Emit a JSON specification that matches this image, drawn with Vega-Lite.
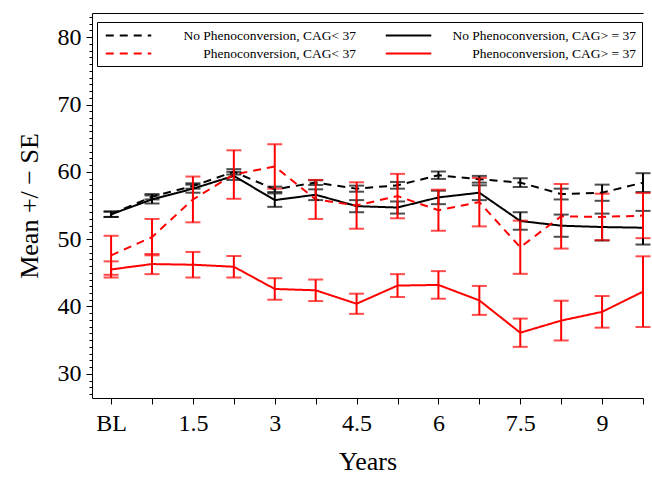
{
  "$schema": "https://vega.github.io/schema/vega-lite/v6.json",
  "width": 551,
  "height": 385,
  "autosize": "none",
  "padding": {"left": 92, "top": 13, "right": 9, "bottom": 79},
  "background": "white",
  "config": {
    "view": {"stroke": null},
    "font": "Liberation Serif",
    "axis": {"labelFont": "Liberation Serif", "titleFont": "Liberation Serif", "labelColor": "black", "titleColor": "black", "domainColor": "black", "tickColor": "black", "grid": false, "titleFontWeight": "normal"}
  },
  "data": {
    "values": [
      {"years": 0, "group": "No Phenoconversion, CAG< 37", "mean": 53.7, "se": 0.4},
      {"years": 0.75, "group": "No Phenoconversion, CAG< 37", "mean": 56.3, "se": 0.4},
      {"years": 1.5, "group": "No Phenoconversion, CAG< 37", "mean": 57.9, "se": 0.4},
      {"years": 2.25, "group": "No Phenoconversion, CAG< 37", "mean": 60.0, "se": 0.4},
      {"years": 3, "group": "No Phenoconversion, CAG< 37", "mean": 57.4, "se": 0.4},
      {"years": 3.75, "group": "No Phenoconversion, CAG< 37", "mean": 58.4, "se": 0.35},
      {"years": 4.5, "group": "No Phenoconversion, CAG< 37", "mean": 57.5, "se": 0.45},
      {"years": 5.25, "group": "No Phenoconversion, CAG< 37", "mean": 58.0, "se": 0.5},
      {"years": 6, "group": "No Phenoconversion, CAG< 37", "mean": 59.5, "se": 0.55},
      {"years": 6.75, "group": "No Phenoconversion, CAG< 37", "mean": 58.9, "se": 0.5},
      {"years": 7.5, "group": "No Phenoconversion, CAG< 37", "mean": 58.4, "se": 0.65},
      {"years": 8.25, "group": "No Phenoconversion, CAG< 37", "mean": 56.7, "se": 0.8},
      {"years": 9, "group": "No Phenoconversion, CAG< 37", "mean": 56.9, "se": 1.2},
      {"years": 9.75, "group": "No Phenoconversion, CAG< 37", "mean": 58.4, "se": 1.4},
      {"years": 0, "group": "No Phenoconversion, CAG> = 37", "mean": 53.7, "se": 0.4},
      {"years": 0.75, "group": "No Phenoconversion, CAG> = 37", "mean": 55.9, "se": 0.6},
      {"years": 1.5, "group": "No Phenoconversion, CAG> = 37", "mean": 57.5, "se": 0.6},
      {"years": 2.25, "group": "No Phenoconversion, CAG> = 37", "mean": 59.4, "se": 0.6},
      {"years": 3, "group": "No Phenoconversion, CAG> = 37", "mean": 55.8, "se": 1.0},
      {"years": 3.75, "group": "No Phenoconversion, CAG> = 37", "mean": 56.6, "se": 0.8},
      {"years": 4.5, "group": "No Phenoconversion, CAG> = 37", "mean": 54.9, "se": 0.9},
      {"years": 5.25, "group": "No Phenoconversion, CAG> = 37", "mean": 54.7, "se": 0.9},
      {"years": 6, "group": "No Phenoconversion, CAG> = 37", "mean": 56.2, "se": 1.0},
      {"years": 6.75, "group": "No Phenoconversion, CAG> = 37", "mean": 56.9, "se": 1.1},
      {"years": 7.5, "group": "No Phenoconversion, CAG> = 37", "mean": 52.7, "se": 1.3},
      {"years": 8.25, "group": "No Phenoconversion, CAG> = 37", "mean": 52.0, "se": 1.65},
      {"years": 9, "group": "No Phenoconversion, CAG> = 37", "mean": 51.8, "se": 2.0},
      {"years": 9.75, "group": "No Phenoconversion, CAG> = 37", "mean": 51.7, "se": 2.5},
      {"years": 0, "group": "Phenoconversion, CAG< 37", "mean": 47.6, "se": 2.9},
      {"years": 0.75, "group": "Phenoconversion, CAG< 37", "mean": 50.3, "se": 2.7},
      {"years": 1.5, "group": "Phenoconversion, CAG< 37", "mean": 55.9, "se": 3.4},
      {"years": 2.25, "group": "Phenoconversion, CAG< 37", "mean": 59.6, "se": 3.6},
      {"years": 3, "group": "Phenoconversion, CAG< 37", "mean": 60.8, "se": 3.3},
      {"years": 3.75, "group": "Phenoconversion, CAG< 37", "mean": 55.9, "se": 2.9},
      {"years": 4.5, "group": "Phenoconversion, CAG< 37", "mean": 55.0, "se": 3.45},
      {"years": 5.25, "group": "Phenoconversion, CAG< 37", "mean": 56.4, "se": 3.3},
      {"years": 6, "group": "Phenoconversion, CAG< 37", "mean": 54.3, "se": 3.05},
      {"years": 6.75, "group": "Phenoconversion, CAG< 37", "mean": 55.5, "se": 3.6},
      {"years": 7.5, "group": "Phenoconversion, CAG< 37", "mean": 48.8, "se": 3.95},
      {"years": 8.25, "group": "Phenoconversion, CAG< 37", "mean": 53.4, "se": 4.8},
      {"years": 9, "group": "Phenoconversion, CAG< 37", "mean": 53.3, "se": 3.45},
      {"years": 9.75, "group": "Phenoconversion, CAG< 37", "mean": 53.5, "se": 3.35},
      {"years": 0, "group": "Phenoconversion, CAG> = 37", "mean": 45.5, "se": 1.2},
      {"years": 0.75, "group": "Phenoconversion, CAG> = 37", "mean": 46.3, "se": 1.5},
      {"years": 1.5, "group": "Phenoconversion, CAG> = 37", "mean": 46.2, "se": 1.9},
      {"years": 2.25, "group": "Phenoconversion, CAG> = 37", "mean": 45.9, "se": 1.6},
      {"years": 3, "group": "Phenoconversion, CAG> = 37", "mean": 42.6, "se": 1.6},
      {"years": 3.75, "group": "Phenoconversion, CAG> = 37", "mean": 42.4, "se": 1.6},
      {"years": 4.5, "group": "Phenoconversion, CAG> = 37", "mean": 40.4, "se": 1.5},
      {"years": 5.25, "group": "Phenoconversion, CAG> = 37", "mean": 43.1, "se": 1.7},
      {"years": 6, "group": "Phenoconversion, CAG> = 37", "mean": 43.2, "se": 2.05},
      {"years": 6.75, "group": "Phenoconversion, CAG> = 37", "mean": 40.9, "se": 2.15},
      {"years": 7.5, "group": "Phenoconversion, CAG> = 37", "mean": 36.1, "se": 2.1},
      {"years": 8.25, "group": "Phenoconversion, CAG> = 37", "mean": 37.9, "se": 2.95},
      {"years": 9, "group": "Phenoconversion, CAG> = 37", "mean": 39.2, "se": 2.35},
      {"years": 9.75, "group": "Phenoconversion, CAG> = 37", "mean": 42.2, "se": 5.25}
    ]
  },
  "layer": [
    {
      "mark": {"type": "line", "strokeWidth": 2},
      "encoding": {
        "x": {
          "field": "years", "type": "quantitative",
          "scale": {"domain": [-0.35, 9.75], "nice": false, "zero": false},
          "axis": {
            "orient": "bottom",
            "values": [0, 0.75, 1.5, 2.25, 3, 3.75, 4.5, 5.25, 6, 6.75, 7.5, 8.25, 9, 9.75],
            "labelExpr": "datum.value == 0 ? 'BL' : (datum.value % 1.5 == 0 ? '' + datum.value : '')",
            "title": "Years",
            "tickSize": 6,
            "labelFontSize": 24,
            "titleFontSize": 26,
            "labelPadding": 7,
            "titlePadding": 13,
            "labelFlush": false,
            "labelOverlap": false
          }
        },
        "y": {
          "field": "mean", "type": "quantitative",
          "scale": {"domain": [26.4, 83.6], "nice": false, "zero": false},
          "axis": {
            "values": [27, 28, 29, 30, 31, 32, 33, 34, 35, 36, 37, 38, 39, 40, 41, 42, 43, 44, 45, 46, 47, 48, 49, 50, 51, 52, 53, 54, 55, 56, 57, 58, 59, 60, 61, 62, 63, 64, 65, 66, 67, 68, 69, 70, 71, 72, 73, 74, 75, 76, 77, 78, 79, 80, 81, 82, 83],
            "labelExpr": "datum.value % 10 == 0 ? '' + datum.value : ''",
            "tickSize": {"condition": {"test": "datum.value % 10 == 0", "value": 6}, "value": 3},
            "title": "Mean +/ \u2212 SE",
            "labelFontSize": 24,
            "titleFontSize": 26,
            "labelPadding": 5,
            "titlePadding": 15,
            "labelOverlap": false
          }
        },
        "color": {
          "field": "group", "type": "nominal",
          "scale": {"domain": ["No Phenoconversion, CAG< 37", "No Phenoconversion, CAG> = 37", "Phenoconversion, CAG< 37", "Phenoconversion, CAG> = 37"], "range": ["#000000", "#000000", "#ff0000", "#ff0000"]},
          "legend": {
            "title": null, "orient": "none", "legendX": 5, "legendY": 9, "direction": "horizontal", "columns": 2,
            "symbolType": "M-0.73,0H6.27", "symbolSize": 169, "symbolStrokeWidth": 2,
            "labelFont": "Liberation Serif", "labelFontSize": 13.5, "labelColor": "black", "labelAlign": "right", "labelOffset": 238, "labelLimit": 400,
            "columnPadding": 25, "rowPadding": 4, "padding": 6, "strokeColor": "black", "fillColor": "white"
          }
        },
        "strokeDash": {
          "field": "group", "type": "nominal",
          "scale": {"domain": ["No Phenoconversion, CAG< 37", "No Phenoconversion, CAG> = 37", "Phenoconversion, CAG< 37", "Phenoconversion, CAG> = 37"], "range": [[8, 6], [1, 0], [8, 6], [1, 0]]},
          "legend": {
            "title": null, "orient": "none", "legendX": 5, "legendY": 9, "direction": "horizontal", "columns": 2,
            "symbolType": "M-0.73,0H6.27", "symbolSize": 169, "symbolStrokeWidth": 2,
            "labelFont": "Liberation Serif", "labelFontSize": 13.5, "labelColor": "black", "labelAlign": "right", "labelOffset": 238, "labelLimit": 400,
            "columnPadding": 25, "rowPadding": 4, "padding": 6, "strokeColor": "black", "fillColor": "white"
          }
        }
      }
    },
    {
      "mark": {"type": "errorbar", "ticks": {"size": 15}, "thickness": 2},
      "encoding": {
        "x": {
          "field": "years", "type": "quantitative",
          "axis": {"orient": "top", "labels": false, "ticks": false, "title": null, "domainColor": "black"}
        },
        "y": {
          "field": "mean", "type": "quantitative",
          "axis": {
            "values": [27, 28, 29, 30, 31, 32, 33, 34, 35, 36, 37, 38, 39, 40, 41, 42, 43, 44, 45, 46, 47, 48, 49, 50, 51, 52, 53, 54, 55, 56, 57, 58, 59, 60, 61, 62, 63, 64, 65, 66, 67, 68, 69, 70, 71, 72, 73, 74, 75, 76, 77, 78, 79, 80, 81, 82, 83],
            "labelExpr": "datum.value % 10 == 0 ? '' + datum.value : ''",
            "tickSize": {"condition": {"test": "datum.value % 10 == 0", "value": 6}, "value": 3},
            "title": "Mean +/ \u2212 SE",
            "labelFontSize": 24,
            "titleFontSize": 26,
            "labelPadding": 5,
            "titlePadding": 15,
            "labelOverlap": false
          }
        },
        "yError": {"field": "se"},
        "color": {"field": "group", "type": "nominal", "legend": null}
      }
    }
  ],
  "resolve": {"axis": {"x": "independent"}}
}
